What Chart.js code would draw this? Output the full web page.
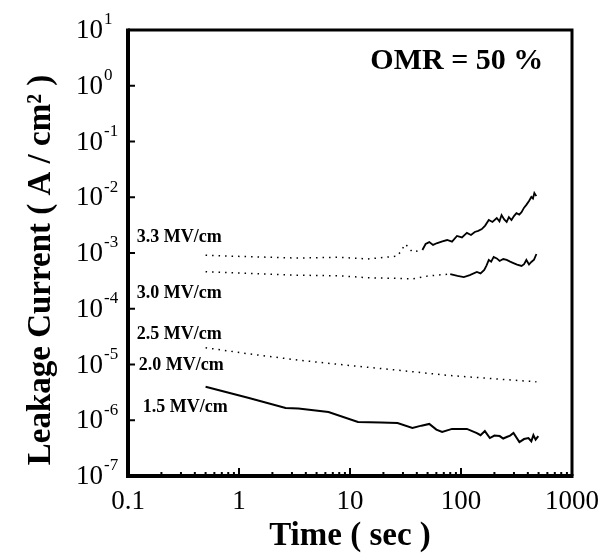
<!DOCTYPE html>
<html>
<head>
<meta charset="utf-8">
<script src="https://cdn.jsdelivr.net/npm/chart.js@4"></script>
<style>
  html, body { margin: 0; padding: 0; background: #fff; }
  #wrap { width: 609px; height: 556px; }
</style>
</head>
<body>
<div id="wrap"><canvas id="chart" width="609" height="556"></canvas></div>
<script>
// time (s) and leakage current (A/cm2)
const t33 = [0.5, 1.2, 3.4, 8, 14.5, 26.8, 31.6, 36.5, 44.9, 48, 51.8, 56, 61.1, 68, 75, 83, 92, 102, 113, 123, 133, 143, 154, 165, 178, 192, 210, 222, 232, 245, 258, 270, 285, 300, 316, 335, 351, 370, 388, 410, 430, 445, 458, 470, 478];
const i33 = [9.1e-4, 8.6e-4, 8.1e-4, 8.4e-4, 7.8e-4, 8.8e-4, 1.45e-3, 1.04e-3, 1.13e-3, 1.45e-3, 1.57e-3, 1.4e-3, 1.51e-3, 1.62e-3, 1.71e-3, 1.6e-3, 2.02e-3, 1.9e-3, 2.29e-3, 2.1e-3, 2.38e-3, 2.5e-3, 2.69e-3, 3.1e-3, 3.9e-3, 3.6e-3, 4.25e-3, 3.7e-3, 4.8e-3, 4.0e-3, 3.6e-3, 4.4e-3, 3.9e-3, 4.6e-3, 5.2e-3, 4.9e-3, 5.4e-3, 6.5e-3, 7.3e-3, 8.6e-3, 1.01e-2, 9.5e-3, 1.19e-2, 1.1e-2, 1.05e-2];

const t30 = [0.5, 1.2, 3.4, 8, 14.5, 26.8, 36.5, 51.8, 80, 93, 106, 120, 139, 150, 162, 170, 178, 187, 197, 210, 223, 240, 258, 277, 297, 320, 351, 370, 388, 410, 430, 455, 478];
const i30 = [4.6e-4, 4.3e-4, 4.0e-4, 3.9e-4, 3.6e-4, 3.5e-4, 3.42e-4, 3.9e-4, 4.2e-4, 3.9e-4, 3.7e-4, 4.0e-4, 4.56e-4, 4.3e-4, 4.96e-4, 6.0e-4, 7.5e-4, 7.0e-4, 8.5e-4, 8.0e-4, 7.2e-4, 7.8e-4, 7.5e-4, 7.0e-4, 6.6e-4, 6.2e-4, 5.85e-4, 6.3e-4, 7.5e-4, 6.2e-4, 6.9e-4, 7.6e-4, 9.6e-4];

const t25 = [0.5, 1.23, 3.4, 9, 27, 75, 210, 478];
const i25 = [2.0e-5, 1.55e-5, 1.2e-5, 9.8e-6, 7.9e-6, 6.4e-6, 5.5e-6, 4.9e-6];

const t15 = [0.5, 1.23, 2.63, 3.43, 6.4, 11.8, 19, 26.8, 36.5, 44, 51.8, 60, 67.6, 83, 113, 139, 150, 164, 182, 200, 223, 240, 258, 277, 297, 336, 370, 405, 430, 449, 470, 497];
const i15 = [4.0e-6, 2.5e-6, 1.66e-6, 1.62e-6, 1.4e-6, 9.3e-7, 9.1e-7, 8.9e-7, 7.3e-7, 8.0e-7, 8.6e-7, 6.8e-7, 6.15e-7, 7.0e-7, 7.0e-7, 5.9e-7, 5.4e-7, 6.4e-7, 4.8e-7, 5.3e-7, 5.2e-7, 4.7e-7, 5.0e-7, 5.3e-7, 5.9e-7, 4.07e-7, 4.6e-7, 4.8e-7, 4.2e-7, 5.4e-7, 4.5e-7, 5.2e-7];

const xMajor = [0.1, 1, 10, 100, 1000];
const yMajor = [1e-7, 1e-6, 1e-5, 1e-4, 1e-3, 1e-2, 1e-1, 1, 10];
const yExp = ['-7', '-6', '-5', '-4', '-3', '-2', '-1', '0', '1'];

// field labels, anchored in data coordinates
const labelText = ['3.3 MV/cm', '3.0 MV/cm', '2.5 MV/cm', '2.0 MV/cm', '1.5 MV/cm'];
const labelT = [0.12, 0.12, 0.12, 0.125, 0.136];
const labelI = [1.94e-3, 1.92e-4, 3.5e-5, 9.8e-6, 1.73e-6];

const SERIF = '"Liberation Serif", "DejaVu Serif", serif';

function pts(ts, is) {
  return ts.map((t, k) => ({ x: t, y: is[k] }));
}

function dashed(until) {
  return ctx => (ctx.p1.parsed.x <= until ? [1.5, 5] : []);
}

const framePlugin = {
  id: 'frame',
  afterDraw(chart) {
    const { ctx, chartArea: a, scales } = chart;
    const xs = scales.x, ys = scales.y;
    ctx.save();
    ctx.strokeStyle = '#000';
    ctx.lineCap = 'butt';

    // x ticks (inward, from the library's log ticks)
    ctx.lineWidth = 2;
    xs.ticks.forEach(tk => {
      const px = xs.getPixelForValue(tk.value);
      const major = xMajor.includes(tk.value);
      ctx.beginPath();
      ctx.moveTo(px, a.bottom);
      ctx.lineTo(px, a.bottom - (major ? 8 : 4));
      ctx.stroke();
    });
    // y major ticks (inward)
    yMajor.forEach(v => {
      const py = ys.getPixelForValue(v);
      ctx.beginPath();
      ctx.moveTo(a.left, py);
      ctx.lineTo(a.left + 7, py);
      ctx.stroke();
    });

    // frame
    ctx.lineWidth = 3;
    ctx.beginPath();
    ctx.moveTo(a.left, a.top);
    ctx.lineTo(a.right, a.top);
    ctx.lineTo(a.right, a.bottom);
    ctx.stroke();
    ctx.lineWidth = 4;
    ctx.beginPath();
    ctx.moveTo(a.right + 1.5, a.bottom);
    ctx.lineTo(a.left, a.bottom);
    ctx.lineTo(a.left, a.top - 1.5);
    ctx.stroke();

    // y tick labels with superscript exponents
    ctx.fillStyle = '#000';
    ctx.textBaseline = 'middle';
    ctx.textAlign = 'left';
    yMajor.forEach((v, k) => {
      const py = ys.getPixelForValue(v);
      ctx.font = '27px ' + SERIF;
      const w = ctx.measureText('10').width;
      const x0 = 76;
      ctx.fillText('10', x0, py + 1);
      ctx.font = '17px ' + SERIF;
      ctx.fillText(yExp[k], x0 + w + 1, py - 10);
    });

    // y axis title
    ctx.save();
    ctx.translate(41, 270);
    ctx.rotate(-Math.PI / 2);
    ctx.textAlign = 'center';
    ctx.font = 'bold 33px ' + SERIF;
    ctx.fillText('Leakage Current ( A / cm² )', 0, 0);
    ctx.restore();

    // field labels
    ctx.font = 'bold 18px ' + SERIF;
    labelText.forEach((s, k) => {
      ctx.fillText(s, xs.getPixelForValue(labelT[k]), ys.getPixelForValue(labelI[k]));
    });

    // OMR note
    ctx.font = 'bold 30px ' + SERIF;
    ctx.textAlign = 'right';
    ctx.fillText('OMR = 50 %', xs.getPixelForValue(551), ys.getPixelForValue(2.78));
    ctx.restore();
  }
};

const lineBase = { borderColor: '#000', pointRadius: 0, tension: 0, fill: false };

new Chart(document.getElementById('chart'), {
  type: 'line',
  data: {
    datasets: [
      { ...lineBase, label: '3.3 MV/cm', data: pts(t33, i33), borderWidth: 1.8, segment: { borderDash: dashed(45), borderWidth: c => (c.p1.parsed.x <= 45 ? 1.5 : 1.8) } },
      { ...lineBase, label: '3.0 MV/cm', data: pts(t30, i30), borderWidth: 1.8, segment: { borderDash: dashed(80), borderWidth: c => (c.p1.parsed.x <= 80 ? 1.5 : 1.8) } },
      { ...lineBase, label: '2.5 MV/cm', data: pts(t25, i25), borderWidth: 1.5, borderDash: [1.5, 5] },
      { ...lineBase, label: '1.5 MV/cm', data: pts(t15, i15), borderWidth: 2 }
    ]
  },
  options: {
    responsive: false,
    animation: false,
    layout: { padding: { left: 4, right: 34, top: 30, bottom: 0 } },
    plugins: { legend: { display: false }, tooltip: { enabled: false } },
    scales: {
      x: {
        type: 'logarithmic',
        min: 0.1,
        max: 1000,
        afterBuildTicks: scale => {
          const ticks = [];
          xMajor.forEach((d, k) => {
            for (let m = 1; m <= 9; m++) {
              if (k === xMajor.length - 1 && m > 1) break;
              ticks.push({ value: +(d * m).toPrecision(3) });
            }
          });
          scale.ticks = ticks;
        },
        afterFit: scale => { scale.height = 80; },
        grid: { display: false, drawTicks: false },
        border: { display: false },
        ticks: {
          autoSkip: false,
          maxRotation: 0,
          padding: 10,
          color: '#000',
          font: { family: SERIF, size: 27 },
          callback: v => (xMajor.includes(v) ? String(v) : '')
        },
        title: {
          display: true,
          text: 'Time ( sec )',
          color: '#000',
          font: { family: SERIF, size: 33, weight: 'bold' },
          padding: { top: 4, bottom: 0 }
        }
      },
      y: {
        type: 'logarithmic',
        min: 1e-7,
        max: 10,
        afterFit: scale => { scale.width = 124; },
        grid: { display: false, drawTicks: false },
        border: { display: false },
        ticks: { display: false },
        title: { display: false }
      }
    }
  },
  plugins: [framePlugin]
});
</script>
</body>
</html>
